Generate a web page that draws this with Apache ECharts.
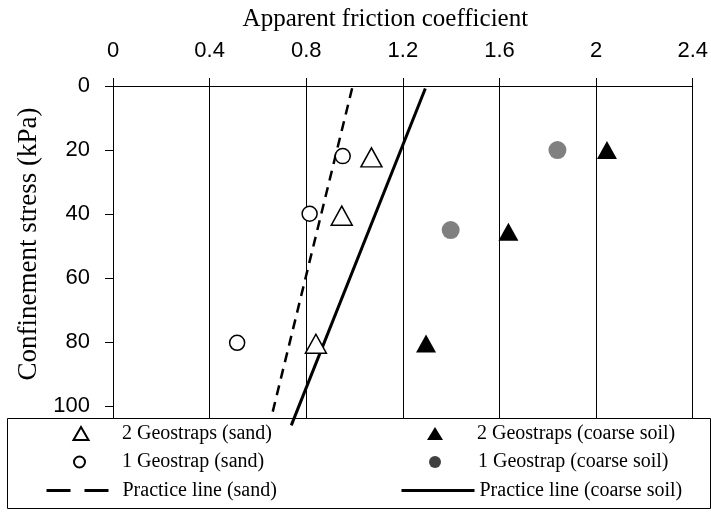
<!DOCTYPE html>
<html>
<head>
<meta charset="utf-8">
<script src="https://cdn.jsdelivr.net/npm/echarts@6/dist/echarts.min.js"></script>
<style>html,body{margin:0;padding:0;background:#fff}#c{width:711px;height:512px}</style>
</head>
<body>
<div id="c"></div>
<script>
// Data: [friction coefficient, confinement stress kPa]
const sand2Geostraps = [[1.07, 22.3], [0.947, 40.5], [0.84, 80.5]];
const sand1Geostrap = [[0.951, 21.9], [0.814, 39.9], [0.514, 80.2]];
const coarse2Geostraps = [[2.045, 20], [1.637, 45.5], [1.296, 80.4]];
const coarse1Geostrap = [[1.84, 20], [1.398, 45]];
const practiceSand = [[0.99, 0.7], [0.661, 101.8]];
const practiceCoarse = [[1.293, 0.8], [0.738, 106]];
const xTicks = [0, 0.4, 0.8, 1.2, 1.6, 2.0, 2.4];
const yTicks = [0, 20, 40, 60, 80, 100];
const seriesNames = ['2 Geostraps (sand)', '1 Geostrap (sand)', 'Practice line (sand)',
  '2 Geostraps (coarse soil)', '1 Geostrap (coarse soil)', 'Practice line (coarse soil)'];

const serif = 'Liberation Serif';
const sans = 'Liberation Sans';

function legendItem(name, left, top, w, h, padLeft, extra, comp) {
  return Object.assign({
    data: [Object.assign({ name: name }, extra || {})],
    left: left, top: top, itemWidth: w, itemHeight: h, padding: 0,
    selectedMode: false,
    textStyle: { fontFamily: serif, fontSize: 20, color: '#000', lineHeight: 20, padding: [0, 0, 0, padLeft] }
  }, comp || {});
}

const hiddenSymbol = { itemStyle: { color: 'rgba(0,0,0,0)', borderWidth: 0, opacity: 0 } };

const chart = echarts.init(document.getElementById('c'), null, { renderer: 'canvas' });
chart.setOption({
  animation: false,
  backgroundColor: '#fff',
  grid: { left: 113, right: 17, top: 86, bottom: 93 },
  xAxis: {
    type: 'value', position: 'top', min: 0, max: 2.4, interval: 0.4,
    name: 'Apparent friction coefficient', nameLocation: 'middle', nameGap: 54,
    nameTextStyle: { fontFamily: serif, fontSize: 25, color: '#000', padding: [0, 35, 0, 0] },
    axisLine: { show: true, lineStyle: { color: '#000', width: 1 } },
    axisTick: { show: true, inside: false, length: 8, lineStyle: { color: '#000' }, customValues: xTicks },
    axisLabel: { fontFamily: sans, fontSize: 22, color: '#000', margin: 24, customValues: xTicks,
      formatter: v => String(Math.round(v * 10) / 10) },
    splitLine: { show: true, lineStyle: { color: '#000', width: 1 } }
  },
  yAxis: {
    type: 'value', inverse: true, min: 0, max: 104, interval: 20,
    name: 'Confinement stress (kPa)', nameLocation: 'middle', nameGap: 69,
    nameTextStyle: { fontFamily: serif, fontSize: 27, color: '#000', padding: [0, 0, 0, 17] },
    axisLine: { show: true, lineStyle: { color: '#000', width: 1 } },
    axisTick: { show: true, inside: false, length: 8, lineStyle: { color: '#000' }, customValues: yTicks },
    axisLabel: { fontFamily: sans, fontSize: 22, color: '#000', margin: 23, customValues: yTicks },
    splitLine: { show: false }
  },
  graphic: {
    elements: [{
      type: 'rect', z: 1,
      shape: { x: 7.5, y: 418.5, width: 703, height: 90 },
      style: { fill: '#fff', stroke: '#000', lineWidth: 1 }
    }]
  },
  legend: [
    legendItem(seriesNames[0], 72.5, 423.5, 15, 13, 28.5, { icon: 'triangle' }),
    legendItem(seriesNames[1], 73, 452, 11, 11, 32, { icon: 'circle' }),
    legendItem(seriesNames[2], 45, 480.5, 62, 14, 9, hiddenSymbol,
      { lineStyle: { type: [24, 14], width: 3, color: '#000' } }),
    legendItem(seriesNames[3], 427, 423.5, 16, 13, 29, { icon: 'triangle' }),
    legendItem(seriesNames[4], 429, 452, 12, 12, 32, { icon: 'circle', itemStyle: { color: '#404040', opacity: 1 } }),
    legendItem(seriesNames[5], 400, 480.5, 73, 14, 0, hiddenSymbol,
      { lineStyle: { type: 'solid', width: 3, color: '#000' } })
  ],
  series: [
    { name: seriesNames[0], type: 'scatter', data: sand2Geostraps, symbol: 'triangle', symbolSize: [21, 19],
      itemStyle: { color: '#fff', borderColor: '#000', borderWidth: 1.5, opacity: 1 }, z: 3 },
    { name: seriesNames[1], type: 'scatter', data: sand1Geostrap, symbol: 'circle', symbolSize: 15,
      itemStyle: { color: '#fff', borderColor: '#000', borderWidth: 1.5, opacity: 1 }, z: 3 },
    { name: seriesNames[2], type: 'line', data: practiceSand, symbol: 'none', clip: false,
      lineStyle: { color: '#000', width: 2.5, type: [10, 7] }, itemStyle: { color: '#000' } },
    { name: seriesNames[3], type: 'scatter', data: coarse2Geostraps, symbol: 'triangle', symbolSize: [20, 18],
      itemStyle: { color: '#000', opacity: 1 }, z: 3 },
    { name: seriesNames[4], type: 'scatter', data: coarse1Geostrap, symbol: 'circle', symbolSize: 18,
      itemStyle: { color: '#808080', opacity: 1 }, z: 3 },
    { name: seriesNames[5], type: 'line', data: practiceCoarse, symbol: 'none', clip: false,
      lineStyle: { color: '#000', width: 3 }, itemStyle: { color: '#000' } }
  ]
});
</script>
</body>
</html>
